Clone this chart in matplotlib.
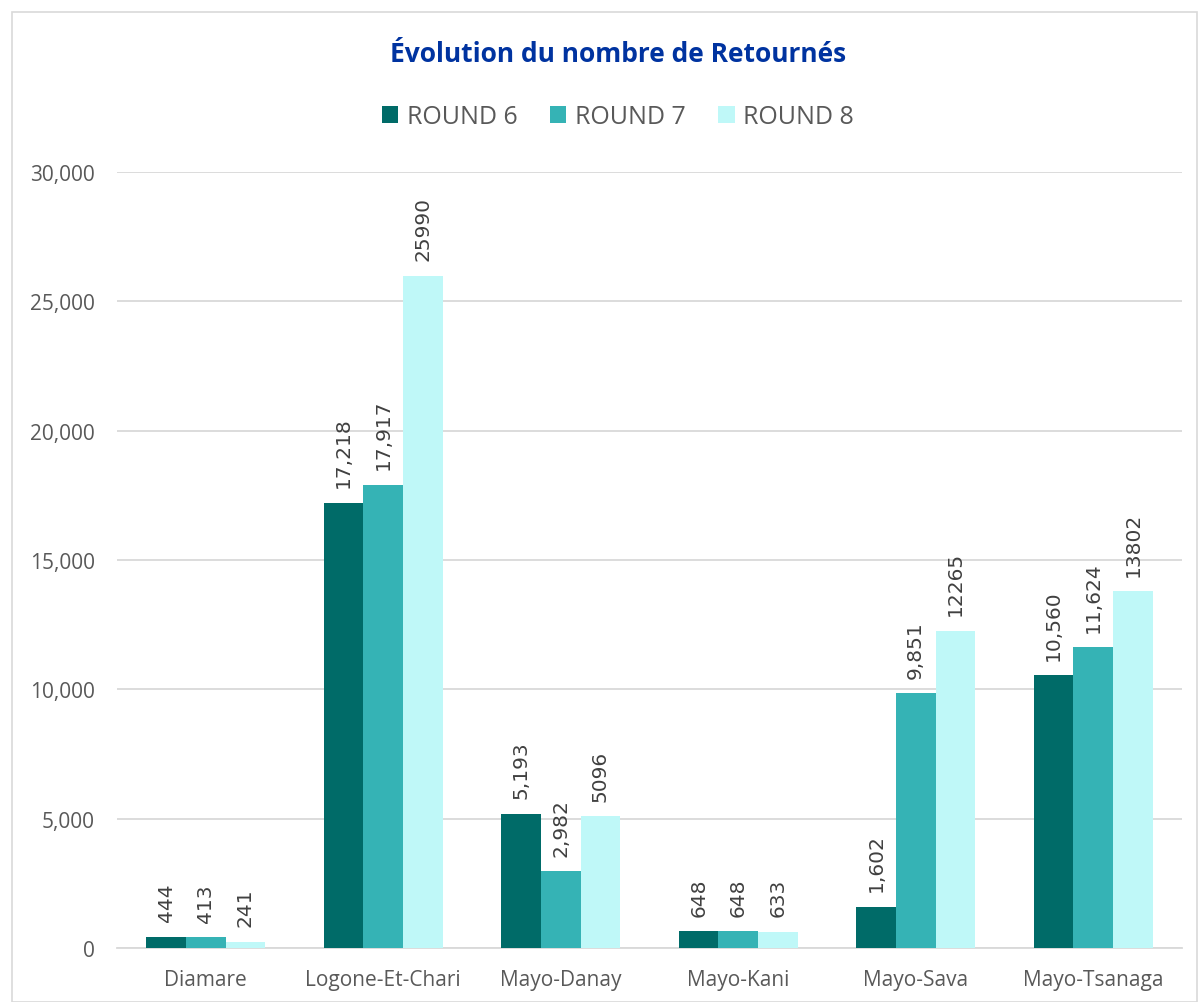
import matplotlib
matplotlib.use("Agg")
import matplotlib.pyplot as plt
import numpy as np
from matplotlib.patches import Rectangle

categories = ["Diamare", "Logone-Et-Chari", "Mayo-Danay", "Mayo-Kani", "Mayo-Sava", "Mayo-Tsanaga"]
series_names = ["ROUND 6", "ROUND 7", "ROUND 8"]
round6 = [444, 17218, 5193, 648, 1602, 10560]
round7 = [413, 17917, 2982, 648, 9851, 11624]
round8 = [241, 25990, 5096, 633, 12265, 13802]
labels6 = ["444", "17,218", "5,193", "648", "1,602", "10,560"]
labels7 = ["413", "17,917", "2,982", "648", "9,851", "11,624"]
labels8 = ["241", "25990", "5096", "633", "12265", "13802"]
yticks = [0, 5000, 10000, 15000, 20000, 25000, 30000]
ytick_labels = ["0", "5,000", "10,000", "15,000", "20,000", "25,000", "30,000"]

colors = ["#006B68", "#35B3B5", "#BFF8F8"]
font = "Open Sans"

fig = plt.figure(figsize=(12, 10.03), dpi=100)
fig.patches.append(Rectangle((12/1200, 0), (1197-12)/1200, 1 - 13/1003, transform=fig.transFigure,
                             fill=False, edgecolor="#D9D9D9", linewidth=1.2))
ax = fig.add_axes([117/1200, 1 - 949/1003, (1182-117)/1200, (949-173)/1003])

x = np.arange(len(categories))
w = 0.223
for i, (vals, labs) in enumerate(zip([round6, round7, round8], [labels6, labels7, labels8])):
    pos = x + (i - 1) * w
    ax.bar(pos, vals, width=w, color=colors[i], label=series_names[i], zorder=3)
    for p, v, l in zip(pos, vals, labs):
        ax.annotate(l, (p, v), xytext=(0, 11), textcoords="offset points", rotation=90,
                    ha="center", va="bottom", fontsize=14.5, color="#404040", family="DejaVu Sans")

ax.set_xlim(-0.5, len(categories) - 0.5)
ax.set_ylim(0, 30000)
ax.set_yticks(yticks)
ax.set_yticklabels(ytick_labels, family=font, fontsize=15, color="#595959")
ax.set_xticks(x)
ax.set_xticklabels(categories, family=font, fontsize=15, color="#595959")
ax.tick_params(length=0)
ax.tick_params(axis="x", pad=15)
ax.tick_params(axis="y", pad=16)
ax.grid(axis="y", color="#D9D9D9", linewidth=1.3, zorder=0)
for s in ["top", "right", "left"]:
    ax.spines[s].set_visible(False)
ax.spines["bottom"].set_color("#D9D9D9")
ax.spines["bottom"].set_linewidth(1.3)

fig.text(0.515, 1 - 55/1003, "Évolution du nombre de Retournés", ha="center", va="center",
         fontsize=19, fontweight="bold", color="#0033A0", family=font)
leg = fig.legend(loc="center", bbox_to_anchor=(0.515, 1 - 118/1003), ncol=3, frameon=False,
                 prop={"family": font, "size": 18}, handlelength=0.65, handleheight=0.65,
                 handletextpad=0.35, columnspacing=1.3)
for t in leg.get_texts():
    t.set_color("#595959")

fig.savefig("out.png", dpi=100)
